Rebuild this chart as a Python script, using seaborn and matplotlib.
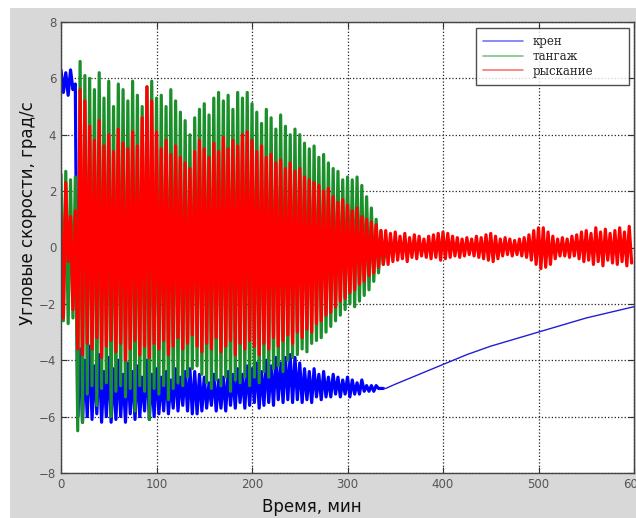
import numpy as np
import pandas as pd
import matplotlib
matplotlib.use("Agg")
import matplotlib.pyplot as plt
from matplotlib.patches import Rectangle
import seaborn as sns

# peak values: hi at t = 5*i, lo at t = 5*i + 2.5 (minutes)
# тангаж (pitch), 0..335 min
green_hi = [2.6, 2.7, 2.4, 2.5,
            6.6, 6.1, 6.0, 5.6, 6.2, 5.3, 5.9, 5.0, 5.8, 5.6,
            5.2, 5.9, 5.4, 5.0, 5.7, 5.9,
            5.3, 5.4, 5.0, 5.6, 5.2, 4.8, 4.5, 4.0, 4.6, 4.9,
            5.1, 4.7, 5.3, 5.5, 5.2, 5.4, 4.9, 5.5, 5.3, 5.5,
            5.1, 4.8, 4.4, 4.9, 4.6, 4.2, 4.7, 4.3, 4.0, 4.2,
            4.0, 3.7, 3.5, 3.6, 3.2, 3.3, 3.0, 2.8, 2.7, 2.4,
            2.5, 2.4, 2.5, 2.2, 1.8, 1.4, 1.0, 0.6]
green_lo = [-2.6, -2.7, -2.5, -6.5,
            -6.2, -5.2, -4.9, -5.6, -5.0, -4.8, -6.0, -5.1, -4.9, -5.3,
            -5.0, -5.8, -4.9, -5.1, -6.1, -5.0,
            -5.2, -4.9, -5.4, -5.0, -4.8, -4.9, -4.6, -4.3, -4.2, -4.5,
            -4.8, -5.0, -4.7, -4.9, -4.6, -5.1, -4.7, -4.8, -4.6, -4.9,
            -4.6, -4.8, -4.4, -4.6, -4.3, -4.2, -4.4, -4.0, -3.9, -3.8,
            -3.6, -3.7, -3.4, -3.3, -3.2, -3.0, -2.8, -2.6, -2.4, -2.2,
            -2.0, -2.1, -1.9, -1.7, -1.5, -1.2, -0.9, -0.6]

# рыскание (yaw), 0..335 min
red_hi = [1.2, 2.3, 1.1, 1.3,
          5.6, 5.2, 4.3, 3.8, 4.5, 3.6, 4.0, 3.4, 4.2, 3.7,
          3.5, 4.1, 3.6, 4.6, 5.7, 5.2,
          4.1, 3.5, 3.8, 3.3, 3.6, 3.2, 3.0, 2.8, 3.4, 3.8,
          3.5, 3.2, 3.7, 3.4, 3.9, 3.5, 3.8, 3.6, 4.0, 4.1,
          3.8, 3.4, 3.6, 3.2, 3.3, 3.0, 3.1, 2.8, 3.0, 2.7,
          2.8, 2.5, 2.4, 2.3, 2.2, 2.0, 2.1, 1.8, 1.6, 1.7,
          1.5, 1.3, 1.4, 1.1, 1.0, 0.9, 0.8, 0.6]
red_lo = [-2.5, -0.5, -2.2, -3.6,
          -3.8, -3.4, -3.6, -3.2, -3.9, -3.5, -3.3, -3.7, -3.4, -4.0,
          -3.6, -3.3, -3.8, -3.5, -3.9, -3.4,
          -3.6, -3.3, -3.8, -3.5, -3.2, -3.6, -3.4, -3.1, -3.5, -3.7,
          -3.4, -3.6, -3.2, -3.7, -3.5, -3.3, -3.8, -3.4, -3.6, -3.3,
          -3.5, -3.8, -3.4, -3.6, -3.2, -3.5, -3.3, -3.1, -3.4, -3.0,
          -3.2, -2.9, -3.0, -2.7, -2.6, -2.4, -2.3, -2.1, -1.9, -1.8,
          -1.6, -1.5, -1.3, -1.2, -1.0, -0.9, -0.7, -0.6]

# рыскание after damping, 340..595 min
red_tail_hi = [0.6, 0.5, 0.55, 0.4, 0.5, 0.35, 0.45, 0.4, 0.3, 0.4,
               0.45, 0.5, 0.55, 0.5, 0.4, 0.35, 0.3, 0.35, 0.3, 0.4,
               0.35, 0.45, 0.5, 0.4, 0.3, 0.35, 0.3, 0.25, 0.3, 0.35,
               0.45, 0.6, 0.7, 0.7, 0.55, 0.4, 0.3, 0.35, 0.3, 0.4,
               0.45, 0.55, 0.6, 0.5, 0.7, 0.55, 0.65, 0.5, 0.6, 0.7,
               0.55, 0.75]
red_tail_lo = [-0.6, -0.5, -0.45, -0.4, -0.5, -0.35, -0.4, -0.3, -0.35, -0.4,
               -0.35, -0.45, -0.4, -0.35, -0.3, -0.35, -0.3, -0.25, -0.3, -0.35,
               -0.4, -0.45, -0.5, -0.4, -0.3, -0.25, -0.3, -0.25, -0.3, -0.35,
               -0.45, -0.6, -0.75, -0.7, -0.6, -0.4, -0.3, -0.3, -0.35, -0.3,
               -0.4, -0.5, -0.45, -0.6, -0.5, -0.65, -0.45, -0.55, -0.6, -0.5,
               -0.65, -0.55]

# крен (roll), 0..335 min
blue_hi = [6.3, 6.2, 6.3, 5.8,
           -3.6, -4.0, -3.5, -4.2, -3.8, -4.4, -3.9, -4.3, -4.0, -4.5,
           -4.1, -4.4, -4.2, -4.6, -4.0, -4.5,
           -4.3, -4.6, -4.4, -4.7, -4.3, -4.6, -4.4, -4.3, -4.4, -4.5,
           -4.6, -4.8, -4.5, -4.7, -4.6, -4.4, -4.5, -4.3, -4.5, -4.2,
           -4.3, -4.1, -4.4, -4.0, -4.2, -3.9, -4.1, -3.9, -3.8, -3.9,
           -4.1, -4.3, -4.4, -4.3, -4.5, -4.4, -4.6, -4.5, -4.6, -4.7,
           -4.6, -4.7, -4.8, -4.7, -4.9, -4.9, -4.9, -5.0]
blue_lo = [5.5, 5.4, 5.6, -6.0,
           -6.2, -6.0, -6.1, -5.9, -6.2, -6.0, -6.2, -6.1, -6.0, -6.2,
           -5.9, -6.1, -6.0, -5.8, -6.1, -6.0,
           -5.9, -5.8, -5.9, -5.7, -5.8, -5.6, -5.8, -5.9, -5.9, -5.8,
           -5.7, -5.6, -5.8, -5.7, -5.8, -5.6, -5.7, -5.5, -5.7, -5.6,
           -5.5, -5.7, -5.6, -5.5, -5.6, -5.4, -5.5, -5.4, -5.5, -5.4,
           -5.5, -5.4, -5.5, -5.3, -5.4, -5.3, -5.3, -5.2, -5.3, -5.2,
           -5.3, -5.2, -5.2, -5.1, -5.1, -5.1, -5.0, -5.0]
# крен, slow drift after damping
blue_tail_t = [337.5, 340, 350, 375, 400, 425, 450, 475, 500, 525, 550, 575, 600]
blue_tail_v = [-5.0, -5.0, -4.85, -4.5, -4.15, -3.8, -3.5, -3.25, -3.0, -2.75, -2.5, -2.3, -2.1]

x_ticks = [0, 100, 200, 300, 400, 500, 600]
y_ticks = [-8, -6, -4, -2, 0, 2, 4, 6, 8]


def peaks(t0, hi, lo):
    t, v = [], []
    for i, (h, l) in enumerate(zip(hi, lo)):
        t += [t0 + 5 * i, t0 + 5 * i + 2.5]
        v += [h, l]
    return t, v


bt, bv = peaks(0, blue_hi, blue_lo)
gt, gv = peaks(0, green_hi, green_lo)
gt += [340]
gv += [0.0]
rt, rv = peaks(0, red_hi, red_lo)
rt2, rv2 = peaks(340, red_tail_hi, red_tail_lo)
rt += rt2
rv += rv2

df = pd.concat([
    pd.DataFrame({"t": bt, "v": bv, "s": "крен"}),
    pd.DataFrame({"t": gt, "v": gv, "s": "тангаж"}),
    pd.DataFrame({"t": rt, "v": rv, "s": "рыскание"}),
], ignore_index=True)
tail = pd.DataFrame({"t": blue_tail_t, "v": blue_tail_v})

sns.set_style("ticks")
plt.rcParams["font.family"] = ["DejaVu Sans"]

fig = plt.figure(figsize=(6.36, 5.18), dpi=100, facecolor="white")
fig.patches.append(Rectangle((10 / 636, 0), 1, 510 / 518, transform=fig.transFigure,
                             facecolor="#d8d8d8", edgecolor="none", zorder=-10))
ax = fig.add_axes([61 / 636, 45 / 518, 573 / 636, 451 / 518])

colors = {"крен": "#0000ff", "тангаж": "#1a8f2a", "рыскание": "#ff0000"}
sns.lineplot(data=df, x="t", y="v", hue="s", palette=colors, sort=False,
             estimator=None, linewidth=2.3, ax=ax)
sns.lineplot(data=tail, x="t", y="v", color="#2020d0", sort=False,
             estimator=None, linewidth=1.0, ax=ax, legend=False)

ax.set_xlim(0, 600)
ax.set_ylim(-8, 8)
ax.set_xticks(x_ticks)
ax.set_yticks(y_ticks)
ax.grid(True, linestyle=":", color="#222222", linewidth=0.9)
ax.tick_params(direction="in", length=4, top=True, right=True, labelsize=8.5,
               labelcolor="#555555", color="#333333")
for sp in ax.spines.values():
    sp.set_visible(True)
    sp.set_color("#444444")
    sp.set_linewidth(1.0)

ax.set_xlabel("Время, мин", fontsize=12, color="#111111")
ax.set_ylabel("Угловые скорости, град/с", fontsize=12, color="#111111")
ax.xaxis.set_label_coords((312 - 61) / 573, -0.055)
ax.yaxis.set_label_coords(-0.042, (473 - 213) / 451)

leg = ax.legend(loc="upper left", bbox_to_anchor=((476 - 61) / 573, 0.80, 153 / 573, 1 - 6 / 451 - 0.80),
                mode="expand", frameon=True, fancybox=False,
                prop={"family": "DejaVu Serif", "size": 8.5},
                handlelength=3.4, labelspacing=0.15, borderpad=0.6, handletextpad=0.8,
                borderaxespad=0)
leg.get_frame().set_edgecolor("#222222")
leg.get_frame().set_linewidth(1.0)
for h in leg.get_lines():
    h.set_linewidth(1.2)
    h.set_alpha(0.55)

fig.savefig("out.png", dpi=100, facecolor=fig.get_facecolor())
